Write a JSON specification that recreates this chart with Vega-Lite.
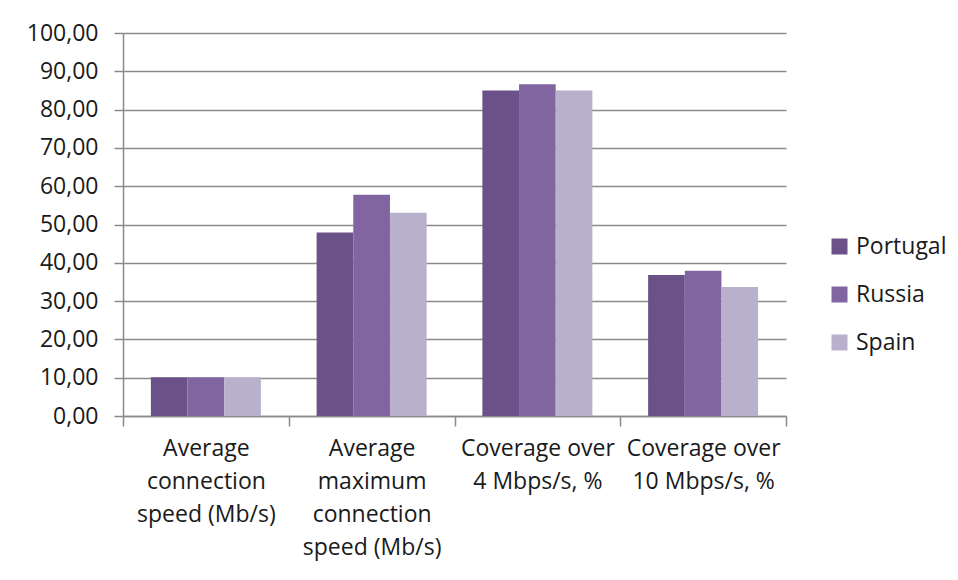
{
  "$schema": "https://vega.github.io/schema/vega-lite/v6.json",
  "autosize": "none",
  "padding": {"left": 123, "top": 33, "right": 172, "bottom": 164},
  "width": 663,
  "height": 383,
  "background": "#ffffff",
  "data": {
    "values": [
      {"metric": "Average connection speed (Mb/s)", "country": "Portugal", "value": 10.1},
      {"metric": "Average connection speed (Mb/s)", "country": "Russia", "value": 10.1},
      {"metric": "Average connection speed (Mb/s)", "country": "Spain", "value": 10.1},
      {"metric": "Average maximum connection speed (Mb/s)", "country": "Portugal", "value": 47.9},
      {"metric": "Average maximum connection speed (Mb/s)", "country": "Russia", "value": 57.8},
      {"metric": "Average maximum connection speed (Mb/s)", "country": "Spain", "value": 53.1},
      {"metric": "Coverage over 4 Mbps/s, %", "country": "Portugal", "value": 85.0},
      {"metric": "Coverage over 4 Mbps/s, %", "country": "Russia", "value": 86.6},
      {"metric": "Coverage over 4 Mbps/s, %", "country": "Spain", "value": 85.0},
      {"metric": "Coverage over 10 Mbps/s, %", "country": "Portugal", "value": 36.8},
      {"metric": "Coverage over 10 Mbps/s, %", "country": "Russia", "value": 37.9},
      {"metric": "Coverage over 10 Mbps/s, %", "country": "Spain", "value": 33.7}
    ]
  },
  "mark": {"type": "bar"},
  "encoding": {
    "x": {
      "field": "metric",
      "type": "nominal",
      "sort": null,
      "title": null,
      "scale": {"paddingInner": 0, "paddingOuter": 0},
      "axis": {
        "labelAngle": 0,
        "labelAlign": "center",
        "labelBaseline": "top",
        "labelPadding": 11,
        "labelLineHeight": 33,
        "labelLimit": 0,
        "labelExpr": "datum.value == 'Average connection speed (Mb/s)' ? ['Average', 'connection', 'speed (Mb/s)'] : datum.value == 'Average maximum connection speed (Mb/s)' ? ['Average', 'maximum', 'connection', 'speed (Mb/s)'] : datum.value == 'Coverage over 4 Mbps/s, %' ? ['Coverage over', '4 Mbps/s, %'] : datum.value == 'Coverage over 10 Mbps/s, %' ? ['Coverage over', '10 Mbps/s, %'] : ''",
        "tickBand": "extent",
        "tickSize": 10,
        "tickColor": "#8a8a8a",
        "tickWidth": 1.5,
        "domainColor": "#8a8a8a",
        "domainWidth": 1.5,
        "grid": false
      }
    },
    "xOffset": {
      "field": "country",
      "type": "nominal",
      "sort": ["Portugal", "Russia", "Spain"],
      "scale": {"paddingInner": 0, "paddingOuter": 0.76}
    },
    "y": {
      "field": "value",
      "type": "quantitative",
      "title": null,
      "scale": {"domain": [0, 100], "nice": false},
      "axis": {
        "values": [0, 10, 20, 30, 40, 50, 60, 70, 80, 90, 100],
        "labelExpr": "replace(format(datum.value, '.2f'), '.', ',')",
        "labelPadding": 16,
        "tickSize": 9,
        "tickColor": "#8a8a8a",
        "tickWidth": 1.5,
        "domainColor": "#8a8a8a",
        "domainWidth": 1.5,
        "grid": true,
        "gridColor": "#8a8a8a",
        "gridWidth": 1.5
      }
    },
    "color": {
      "field": "country",
      "type": "nominal",
      "sort": ["Portugal", "Russia", "Spain"],
      "scale": {
        "domain": ["Portugal", "Russia", "Spain"],
        "range": ["#6a5187", "#8065a0", "#b9b0cb"]
      },
      "legend": {
        "title": null,
        "orient": "none",
        "legendX": 705,
        "legendY": 202,
        "symbolType": "square",
        "symbolSize": 256,
        "symbolStrokeWidth": 0,
        "rowPadding": 24,
        "labelOffset": 5
      }
    }
  },
  "config": {
    "view": {"stroke": null},
    "font": "Open Sans",
    "axis": {
      "labelFont": "Open Sans",
      "labelFontSize": 23,
      "labelColor": "#1a1a1a"
    },
    "legend": {
      "labelFont": "Open Sans",
      "labelFontSize": 23,
      "labelColor": "#1a1a1a"
    }
  }
}
